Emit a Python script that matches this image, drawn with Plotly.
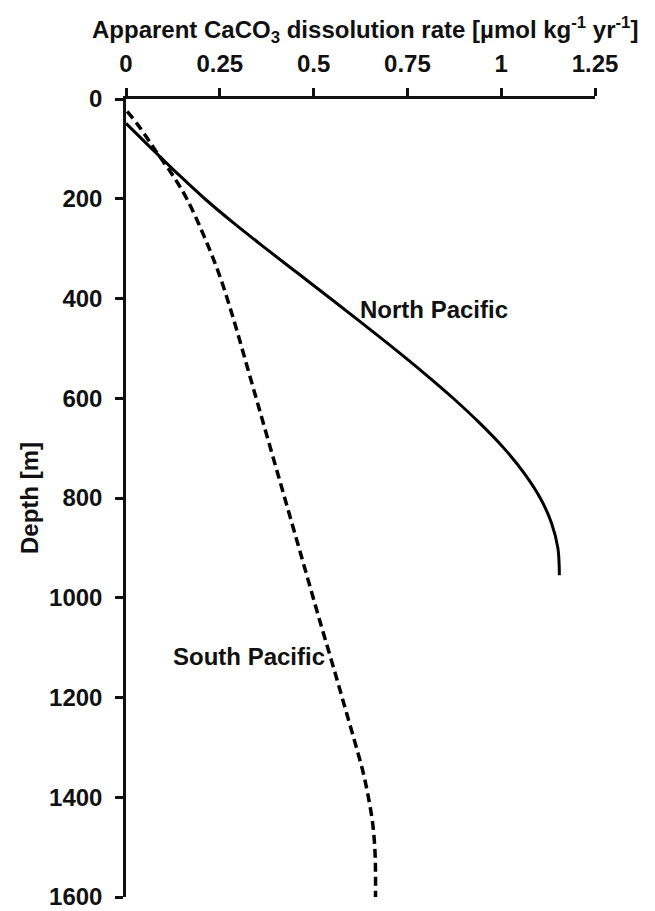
import plotly.graph_objects as go

# North Pacific (solid)
north_depth = [49, 80, 105, 150, 200, 250, 300, 350, 400, 450, 500, 550, 600, 650, 700, 750, 800, 850, 900, 955]
north_rate = [0.0, 0.042, 0.076, 0.138, 0.21, 0.289, 0.373, 0.459, 0.545, 0.63, 0.714, 0.795, 0.872, 0.943,
              1.007, 1.061, 1.104, 1.134, 1.151, 1.155]

# South Pacific (dashed)
south_depth = [25, 50, 80, 105, 150, 200, 275, 355, 450, 550, 650, 750, 850, 950, 1050, 1150, 1200, 1250,
               1300, 1350, 1400, 1450, 1500, 1550, 1600]
south_rate = [0.003, 0.03, 0.058, 0.08, 0.122, 0.162, 0.208, 0.25, 0.29, 0.328, 0.366, 0.404, 0.442, 0.48,
              0.518, 0.557, 0.576, 0.595, 0.614, 0.632, 0.646, 0.657, 0.663, 0.665, 0.665]

x_ticks = [0, 0.25, 0.5, 0.75, 1, 1.25]
x_ticktext = ["0", "0.25", "0.5", "0.75", "1", "1.25"]
y_ticks = [0, 200, 400, 600, 800, 1000, 1200, 1400, 1600]

FONT = "Liberation Sans, Arial, sans-serif"
INK = "#111111"
FS = 24

fig = go.Figure()
fig.add_trace(go.Scatter(x=north_rate, y=north_depth, mode="lines",
                         line=dict(color="black", width=3, shape="spline"), showlegend=False))
fig.add_trace(go.Scatter(x=south_rate, y=south_depth, mode="lines",
                         line=dict(color="black", width=3.5, dash="9px,5px", shape="spline"), showlegend=False))

fig.update_layout(
    width=655, height=911,
    margin=dict(l=126, r=60, t=99, b=14, autoexpand=False),
    paper_bgcolor="white", plot_bgcolor="white",
    font=dict(family=FONT, size=FS, color=INK, weight="bold"),
    xaxis=dict(range=[0, 1.25], side="top", tickvals=x_ticks, ticktext=x_ticktext, automargin=False,
               showgrid=False, zeroline=False, showline=True, linecolor=INK, linewidth=2.5,
               ticks="outside", ticklen=8, tickwidth=2.5, tickcolor=INK, ticklabeloverflow="allow",
               tickfont=dict(family=FONT, size=FS, color=INK, weight="bold"), ticklabelstandoff=7),
    yaxis=dict(range=[1600, 0], tickvals=y_ticks, automargin=False,
               showgrid=False, zeroline=False, showline=True, linecolor=INK, linewidth=2.5,
               ticks="outside", ticklen=8, tickwidth=2.5, tickcolor=INK, ticklabeloverflow="allow",
               tickfont=dict(family=FONT, size=FS, color=INK, weight="bold"), ticklabelstandoff=8),
    annotations=[
        dict(text="Apparent CaCO<sub>3</sub> dissolution rate [µmol kg<sup>-1</sup> yr<sup>-1</sup>]",
             xref="paper", yref="paper", x=0.51, y=1 + 69 / 798, xanchor="center", yanchor="middle",
             showarrow=False, font=dict(family=FONT, size=FS, color=INK, weight="bold")),
        dict(text="Depth [m]", textangle=-90, xref="paper", yref="paper", x=-97 / 469, y=0.5,
             xanchor="center", yanchor="middle", showarrow=False,
             font=dict(family=FONT, size=FS, color=INK, weight="bold")),
        dict(text="North Pacific", xref="x", yref="y", x=0.617, y=422, xanchor="left", yanchor="middle",
             showarrow=False, font=dict(family=FONT, size=FS, color=INK, weight="bold")),
        dict(text="South Pacific", xref="x", yref="y", x=0.12, y=1118, xanchor="left", yanchor="middle",
             showarrow=False, font=dict(family=FONT, size=FS, color=INK, weight="bold")),
    ],
)

fig.write_html("out.html", config={"displayModeBar": False},
               post_script="document.body.style.margin='0';document.body.style.padding='0';")
